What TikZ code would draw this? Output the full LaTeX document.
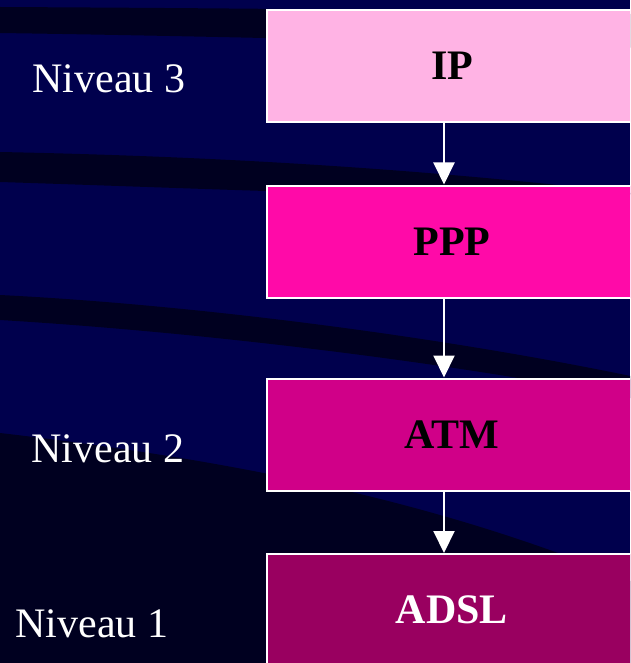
\documentclass[tikz,border=0pt]{standalone}
\usepackage{fontspec}
\setmainfont{Liberation Serif}
\usetikzlibrary{arrows.meta}
\definecolor{navy}{RGB}{0,0,77}
\definecolor{deepnavy}{RGB}{0,0,32}
\definecolor{ipcol}{RGB}{255,179,228}
\definecolor{pppcol}{RGB}{255,10,168}
\definecolor{atmcol}{RGB}{208,0,136}
\definecolor{adslcol}{RGB}{153,0,96}
\tikzset{
  layer/.style={draw=white, line width=2pt, minimum width=370pt, minimum height=112pt,
    inner sep=0pt, font=\fontsize{42}{50}\selectfont\bfseries},
  level/.style={anchor=base west, text=white, font=\fontsize{42}{50}\selectfont},
  flow/.style={draw=white, line width=2pt, -{Triangle[length=22pt,width=21pt]}}
}
\begin{document}
\begin{tikzpicture}[x=1pt,y=-1pt]
            \clip (0,0) rectangle (630,663);
            % background with the dark bands
            \fill[navy] (0,0) rectangle (630,663);
            \fill[deepnavy] (0,7) .. controls (200,8) and (450,10) .. (640,14) -- (640,48) .. controls (450,42) and (200,36) .. (0,33) -- cycle;
            \fill[deepnavy] (0,152) .. controls (250,157) and (450,172) .. (640,194) .. controls (450,200) and (250,190) .. (0,182) -- cycle;
            \fill[deepnavy] (0,295) .. controls (200,305) and (450,338) .. (640,378) -- (640,400) .. controls (450,362) and (200,332) .. (0,320) -- cycle;
            \fill[deepnavy] (0,433) .. controls (250,462) and (450,505) .. (640,585) -- (640,663) -- (0,663) -- cycle;
            % protocol stack
            \foreach \n/\y/\c/\t/\tc in {ip/66/ipcol/IP/black,ppp/241.5/pppcol/PPP/black,atm/434.5/atmcol/ATM/black,adsl/610/adslcol/ADSL/white} {
                \node[layer, fill=\c, text=\tc] (\n) at (452,\y) {\t};
            }
            \foreach \a/\b in {ip/ppp,ppp/atm,atm/adsl} {
                \draw[flow] ([xshift=-8pt]\a.south) -- ([xshift=-8pt]\b.north);
            }
            \node[level] (niv3) at (29,93) {Niveau 3};
            \node[level] (niv2) at (28,462) {Niveau 2};
            \node[level] (niv1) at (12,637) {Niveau 1};
        \end{tikzpicture}
\end{document}
